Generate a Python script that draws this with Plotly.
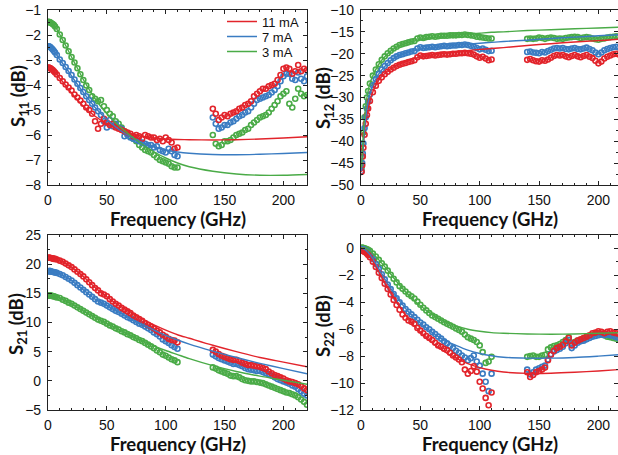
import plotly.graph_objects as go

# ---------------- data ----------------
currents = ["11 mA", "7 mA", "3 mA"]
colors = ["#e2242b", "#3a7cc2", "#4aab47"]

freq_lo = [0.5, 1, 1.5, 2, 3, 4, 5, 6, 7.5,
           10, 12.5, 15, 17.5, 20, 22.5, 25, 27.5, 30, 32.5,
           35, 37.5, 40, 42.5, 45, 47.5, 50, 52.5, 55, 57.5,
           60, 62.5, 65, 67.5, 70, 72.5, 75, 77.5, 80, 82.5,
           85, 87.5, 90, 92.5, 95, 97.5, 100, 102.5, 105, 107.5,
           110]
freq_hi = [140, 142.5, 145, 147.5, 150, 152.5, 155, 157.5, 160, 162.5,
           165, 167.5, 170, 172.5, 175, 177.5, 180, 182.5, 185, 187.5,
           190, 192.5, 195, 197.5, 200, 202.5, 205, 207.5, 210, 212.5,
           215, 217.5, 220]
freq_model = [0.5, 1, 2, 3, 5, 7.5, 10,
              15, 20, 25, 30, 40, 50,
              60, 70, 80, 90, 100, 110,
              120, 140, 160, 180, 200, 220]

# ---- S11 measured ----
s11_lo_11 = [-3.30, -3.31, -3.32, -3.33, -3.36, -3.40, -3.45, -3.50, -3.58,
             -3.72, -3.85, -3.98, -4.10, -4.22, -4.38, -4.50, -4.62, -4.75, -4.90,
             -5.00, -5.15, -5.45, -5.75, -5.55, -5.35, -5.50, -5.60, -5.55, -5.70,
             -5.75, -5.80, -5.85, -5.90, -5.95, -6.05, -6.00, -6.05, -6.15, -6.00,
             -6.05, -6.10, -6.10, -6.20, -6.15, -6.25, -6.10, -6.20, -6.30, -6.55,
             -6.50]
s11_hi_11 = [-4.95, -5.15, -5.40, -5.30, -5.20, -5.25, -5.15, -5.10, -5.05, -4.95,
             -4.90, -4.80, -4.75, -4.65, -4.45, -4.35, -4.25, -4.15, -4.15, -4.05,
             -4.00, -3.95, -3.80, -3.60, -3.35, -3.30, -3.35, -3.55, -3.45, -3.20,
             -3.45, -3.35, -3.40]
s11_lo_7 = [-2.45, -2.46, -2.47, -2.49, -2.53, -2.58, -2.64, -2.70, -2.80,
            -2.98, -3.12, -3.28, -3.44, -3.60, -3.78, -3.95, -4.12, -4.28, -4.45,
            -4.60, -4.75, -4.90, -5.05, -5.20, -5.45, -5.70, -5.40, -5.65, -5.55,
            -5.70, -5.75, -6.05, -6.00, -6.10, -6.15, -6.20, -6.25, -6.30, -6.35,
            -6.40, -6.40, -6.50, -6.45, -6.60, -6.65, -6.70, -6.55, -6.65, -6.80,
            -6.85]
s11_hi_7 = [-5.30, -5.55, -5.75, -5.70, -5.60, -5.60, -5.50, -5.45, -5.35, -5.25,
            -5.20, -5.10, -5.05, -4.90, -4.75, -4.60, -4.55, -4.50, -4.45, -4.40,
            -4.30, -4.20, -4.05, -3.85, -3.65, -3.55, -3.55, -3.75, -3.80, -3.50,
            -3.75, -3.85, -3.65]
s11_lo_3 = [-1.47, -1.48, -1.49, -1.50, -1.53, -1.56, -1.60, -1.66, -1.76,
            -1.98, -2.20, -2.42, -2.65, -2.88, -3.10, -3.33, -3.57, -3.80, -4.02,
            -4.20, -4.45, -4.55, -4.65, -4.60, -4.85, -5.00, -5.15, -5.25, -5.45,
            -5.55, -5.70, -5.85, -5.95, -6.05, -6.15, -6.25, -6.40, -6.50, -6.60,
            -6.65, -6.70, -6.80, -6.90, -7.00, -7.05, -7.10, -7.15, -7.25, -7.30,
            -7.30]
s11_hi_3 = [-6.00, -6.35, -6.45, -6.40, -6.25, -6.25, -6.20, -6.10, -6.00, -5.95,
            -5.90, -5.80, -5.75, -5.60, -5.50, -5.40, -5.30, -5.25, -5.20, -5.10,
            -4.95, -4.80, -4.65, -4.45, -4.35, -4.25, -4.75, -4.90, -4.55, -4.15,
            -4.35, -4.45, -4.40]

# ---- S12 measured ----
s12_lo_11 = [-47.0, -45.5, -43.5, -41.5, -38.5, -36.0, -34.0, -32.5, -30.8,
             -28.8, -27.3, -26.2, -25.4, -24.7, -24.1, -23.6, -23.2, -22.8, -22.5,
             -22.3, -22.1, -21.9, -21.7, -21.5, -20.8, -20.4, -20.6, -20.5, -20.4,
             -20.3, -20.4, -20.3, -20.2, -20.1, -20.2, -20.1, -20.0, -20.0, -19.9,
             -19.9, -19.8, -19.9, -20.0, -20.2, -20.6, -20.9, -20.7, -21.1, -21.5,
             -21.3]
s12_hi_11 = [-21.4, -21.2, -21.5, -21.7, -21.8, -21.5, -21.6, -21.3, -20.9, -20.5,
             -20.3, -20.4, -20.3, -20.6, -20.8, -20.5, -20.3, -20.6, -20.8, -20.5,
             -20.3, -20.7, -21.0, -21.6, -22.2, -21.8, -21.1, -20.7, -20.4, -20.1,
             -20.0, -20.2, -20.1]
s12_lo_7 = [-46.8, -45.0, -42.8, -40.5, -37.0, -34.5, -32.5, -31.0, -29.3,
            -27.2, -25.8, -24.6, -23.6, -22.8, -22.1, -21.5, -21.0, -20.6, -20.3,
            -20.1, -19.9, -19.7, -19.5, -19.4, -18.8, -18.5, -18.7, -18.6, -18.5,
            -18.4, -18.5, -18.4, -18.3, -18.2, -18.3, -18.2, -18.1, -18.1, -18.0,
            -18.0, -17.9, -18.0, -18.2, -18.4, -18.7, -19.0, -18.8, -19.1, -19.4,
            -19.3]
s12_hi_7 = [-19.6, -19.5, -19.7, -19.8, -19.9, -19.6, -19.7, -19.4, -19.1, -18.8,
            -18.7, -18.8, -18.7, -18.9, -19.0, -18.8, -18.7, -18.9, -19.0, -18.8,
            -18.6, -18.9, -19.2, -19.7, -20.1, -19.7, -19.2, -18.9, -18.7, -18.5,
            -18.4, -18.6, -18.5]
s12_lo_3 = [-46.0, -43.5, -40.5, -38.0, -34.5, -32.0, -30.0, -28.5, -26.8,
            -25.0, -23.6, -22.4, -21.4, -20.6, -19.9, -19.3, -18.8, -18.4, -18.0,
            -17.8, -17.6, -17.4, -17.2, -17.1, -16.5, -16.3, -16.4, -16.2, -16.1,
            -16.0, -16.1, -16.0, -15.9, -15.9, -15.9, -15.8, -15.8, -15.8, -15.7,
            -15.7, -15.6, -15.7, -15.8, -15.9, -16.1, -16.2, -16.3, -16.4, -16.5,
            -16.5]
s12_hi_3 = [-16.6, -16.5, -16.6, -16.5, -16.3, -16.4, -16.6, -16.4, -16.3, -16.4,
            -16.6, -16.5, -16.6, -16.4, -16.3, -16.2, -16.1, -16.2, -16.4, -16.3,
            -16.2, -16.3, -16.5, -16.7, -16.8, -16.6, -16.5, -16.3, -16.2, -16.1,
            -16.0, -16.1, -16.0]

# ---- S21 measured ----
s21_lo_11 = [21.1, 21.1, 21.1, 21.1, 21.0, 21.0, 20.9, 20.9, 20.8,
             20.6, 20.4, 20.1, 19.8, 19.5, 19.1, 18.7, 18.3, 17.9, 17.4,
             16.9, 16.4, 15.9, 15.5, 15.0, 14.8, 14.5, 14.0, 13.6, 13.2,
             12.9, 12.5, 12.2, 11.9, 11.6, 11.2, 10.9, 10.6, 10.3, 9.9,
             9.6, 9.3, 9.0, 8.6, 8.3, 7.9, 7.6, 7.2, 7.0, 6.9,
             6.6]
s21_hi_11 = [5.3, 5.0, 4.6, 4.3, 4.1, 3.9, 3.7, 3.6, 3.6, 3.4,
             3.1, 2.9, 2.7, 2.7, 2.6, 2.5, 2.4, 2.2, 2.0, 1.6,
             1.3, 1.0, 0.8, 0.6, 0.4, 0.1, -0.1, -0.2, -0.4, -0.6,
             -0.9, -1.3, -1.6]
s21_lo_7 = [18.8, 18.8, 18.8, 18.8, 18.7, 18.7, 18.6, 18.6, 18.5,
            18.3, 18.1, 17.8, 17.5, 17.2, 16.8, 16.4, 16.0, 15.6, 15.2,
            14.8, 14.4, 14.0, 13.6, 13.4, 13.2, 12.9, 12.6, 12.3, 12.0,
            11.8, 11.5, 11.2, 10.9, 10.7, 10.4, 10.1, 9.8, 9.6, 9.3,
            9.0, 8.7, 8.3, 8.0, 7.6, 7.1, 6.8, 6.5, 6.1, 5.8,
            5.5]
s21_hi_7 = [4.5, 4.2, 3.9, 3.7, 3.5, 3.3, 3.1, 2.9, 2.9, 2.7,
            2.5, 2.2, 2.0, 1.9, 1.8, 1.7, 1.7, 1.5, 1.3, 1.1,
            0.9, 0.6, 0.3, 0.1, -0.1, -0.3, -0.5, -0.8, -1.0, -1.4,
            -1.8, -2.2, -2.5]
s21_lo_3 = [14.6, 14.6, 14.6, 14.6, 14.6, 14.5, 14.5, 14.4, 14.3,
            14.2, 13.9, 13.7, 13.4, 13.2, 12.9, 12.6, 12.3, 12.0, 11.7,
            11.4, 11.1, 10.8, 10.5, 10.3, 10.1, 9.8, 9.5, 9.3, 9.0,
            8.8, 8.5, 8.3, 8.0, 7.8, 7.5, 7.3, 7.0, 6.8, 6.5,
            6.2, 5.9, 5.6, 5.2, 4.9, 4.5, 4.3, 4.0, 3.7, 3.5,
            3.2]
s21_hi_3 = [2.3, 2.1, 1.8, 1.6, 1.4, 1.2, 0.9, 0.8, 0.8, 0.6,
            0.3, 0.1, 0.0, -0.1, -0.1, -0.2, -0.3, -0.4, -0.6, -0.8,
            -1.0, -1.2, -1.4, -1.6, -1.8, -2.0, -2.1, -2.3, -2.5, -2.8,
            -3.2, -3.6, -4.1]

# ---- S22 measured ----
s22_lo_11 = [-0.15, -0.16, -0.18, -0.20, -0.25, -0.30, -0.38, -0.48, -0.65,
             -0.98, -1.38, -1.80, -2.20, -2.62, -3.02, -3.42, -3.82, -4.20, -4.55,
             -4.90, -5.15, -5.35, -5.45, -5.60, -5.90, -6.10, -6.30, -6.50, -6.65,
             -6.80, -7.00, -7.20, -7.30, -7.45, -7.55, -7.75, -7.95, -8.10, -8.25,
             -8.45, -9.00, -9.30, -9.10, -8.75, -9.15, -9.90, -10.40, -11.10, -11.65,
             -10.70]
s22_hi_11 = [-9.20, -9.55, -9.40, -9.20, -9.10, -9.00, -8.85, -8.30, -7.90, -7.60,
             -7.40, -7.30, -7.15, -6.90, -6.65, -7.20, -7.00, -6.85, -6.75, -6.65,
             -6.55, -6.45, -6.30, -6.25, -6.15, -6.20, -6.30, -6.20, -6.15, -6.25,
             -6.30, -6.35, -6.45]
s22_lo_7 = [-0.05, -0.06, -0.07, -0.09, -0.13, -0.18, -0.25, -0.33, -0.48,
            -0.78, -1.15, -1.52, -1.92, -2.30, -2.68, -3.02, -3.38, -3.70, -4.00,
            -4.25, -4.50, -4.70, -4.90, -5.10, -5.30, -5.50, -5.65, -5.85, -6.00,
            -6.20, -6.35, -6.55, -6.70, -6.90, -7.05, -7.25, -7.40, -7.60, -7.75,
            -7.95, -8.10, -8.30, -8.15, -7.95, -8.40, -8.70, -9.30, -9.90, -10.60,
            -9.30]
s22_hi_7 = [-9.00, -9.35, -9.20, -9.00, -8.90, -8.80, -8.70, -8.25, -7.85, -7.65,
            -7.55, -7.45, -7.30, -7.05, -6.80, -7.40, -7.20, -7.00, -6.90, -6.85,
            -6.75, -6.65, -6.55, -6.50, -6.45, -6.40, -6.45, -6.40, -6.45, -6.50,
            -6.60, -6.65, -6.70]
s22_lo_3 = [0.05, 0.05, 0.04, 0.03, 0.01, -0.02, -0.06, -0.10, -0.18,
            -0.38, -0.60, -0.85, -1.10, -1.35, -1.65, -1.95, -2.25, -2.52, -2.80,
            -3.00, -3.20, -3.40, -3.55, -3.72, -3.95, -4.18, -4.40, -4.60, -4.80,
            -4.98, -5.10, -5.22, -5.35, -5.48, -5.60, -5.70, -5.82, -5.95, -6.05,
            -6.18, -6.40, -6.60, -6.70, -6.80, -6.95, -7.20, -7.70, -8.50, -8.40,
            -8.05]
s22_hi_3 = [-8.05, -8.00, -7.95, -8.05, -8.05, -7.95, -7.90, -7.50, -7.35, -7.25,
            -7.20, -7.10, -6.95, -6.80, -6.60, -7.05, -6.95, -6.85, -6.80, -6.70,
            -6.60, -6.50, -6.45, -6.35, -6.30, -6.35, -6.45, -6.55, -6.60, -6.65,
            -6.70, -6.75, -6.80]

# ---- model (solid lines) ----
s11_model_11 = [-3.30, -3.31, -3.33, -3.36, -3.45, -3.58, -3.73,
                -4.02, -4.32, -4.60, -4.85, -5.25, -5.55,
                -5.78, -5.95, -6.05, -6.12, -6.16, -6.18,
                -6.19, -6.20, -6.19, -6.16, -6.12, -6.07]
s11_model_7 = [-2.45, -2.46, -2.48, -2.52, -2.63, -2.80, -2.98,
               -3.30, -3.64, -3.98, -4.30, -4.90, -5.38,
               -5.77, -6.07, -6.30, -6.47, -6.60, -6.68,
               -6.73, -6.78, -6.79, -6.77, -6.74, -6.70]
s11_model_3 = [-1.47, -1.48, -1.50, -1.53, -1.60, -1.76, -1.98,
               -2.42, -2.88, -3.33, -3.78, -4.55, -5.15,
               -5.62, -6.02, -6.37, -6.67, -6.92, -7.12,
               -7.27, -7.45, -7.56, -7.61, -7.61, -7.58]
s12_model_11 = [-47.0, -45.0, -41.0, -38.0, -34.0, -30.8, -28.7,
                -26.0, -24.5, -23.4, -22.6, -21.5, -20.8,
                -20.3, -19.9, -19.6, -19.3, -19.0, -18.8,
                -18.6, -18.1, -17.7, -17.3, -17.0, -16.6]
s12_model_7 = [-46.8, -44.8, -40.5, -37.0, -32.5, -29.3, -27.2,
               -24.6, -22.9, -21.6, -20.7, -19.6, -19.0,
               -18.6, -18.3, -18.0, -17.8, -17.6, -17.4,
               -17.2, -16.9, -16.5, -16.2, -15.9, -15.6]
s12_model_3 = [-46.0, -43.5, -38.0, -34.5, -30.0, -26.8, -25.0,
               -22.4, -20.7, -19.4, -18.5, -17.4, -16.8,
               -16.3, -16.0, -15.7, -15.5, -15.3, -15.1,
               -15.0, -14.7, -14.5, -14.3, -14.1, -13.9]
s21_model_11 = [21.1, 21.1, 21.1, 21.05, 20.95, 20.8, 20.6,
                20.1, 19.5, 18.7, 17.9, 16.0, 14.4,
                13.0, 11.8, 10.6, 9.6, 8.7, 7.9,
                7.3, 6.1, 5.0, 4.0, 3.2, 2.4]
s21_model_7 = [18.8, 18.8, 18.8, 18.75, 18.65, 18.5, 18.3,
               17.8, 17.2, 16.4, 15.6, 14.0, 12.9,
               11.8, 10.7, 9.7, 8.7, 7.8, 7.0,
               6.3, 5.1, 4.0, 3.0, 2.1, 1.2]
s21_model_3 = [14.6, 14.6, 14.6, 14.6, 14.5, 14.35, 14.2,
               13.7, 13.2, 12.6, 12.0, 10.9, 9.8,
               8.8, 7.8, 6.9, 6.0, 5.2, 4.5,
               3.8, 2.6, 1.6, 0.8, 0.1, -0.6]
s22_model_11 = [-0.10, -0.11, -0.14, -0.20, -0.35, -0.60, -0.95,
                -1.75, -2.55, -3.30, -4.00, -5.25, -6.20,
                -7.00, -7.65, -8.15, -8.55, -8.85, -9.05,
                -9.18, -9.28, -9.27, -9.20, -9.10, -8.98]
s22_model_7 = [0.00, -0.01, -0.03, -0.07, -0.20, -0.45, -0.75,
               -1.50, -2.25, -2.95, -3.60, -4.70, -5.55,
               -6.25, -6.80, -7.20, -7.55, -7.80, -7.97,
               -8.08, -8.15, -8.15, -8.10, -8.00, -7.88]
s22_model_3 = [0.05, 0.05, 0.04, 0.02, -0.05, -0.20, -0.38,
               -0.85, -1.35, -1.90, -2.45, -3.45, -4.25,
               -4.90, -5.40, -5.75, -6.00, -6.15, -6.25,
               -6.30, -6.35, -6.37, -6.35, -6.30, -6.25]

# y-axis titles and tick settings per panel
y_titles = ["S<sub>11</sub> (dB)", "S<sub>12</sub> (dB)", "S<sub>21</sub> (dB)", "S<sub>22</sub> (dB)"]
y_ranges = [[-8, -1], [-50, -10], [-5, 25], [-12, 1]]
y_dticks = [1, 5, 5, 2]
x_title = "Frequency (GHz)"

panels = [
    ([s11_lo_11, s11_lo_7, s11_lo_3], [s11_hi_11, s11_hi_7, s11_hi_3], [s11_model_11, s11_model_7, s11_model_3]),
    ([s12_lo_11, s12_lo_7, s12_lo_3], [s12_hi_11, s12_hi_7, s12_hi_3], [s12_model_11, s12_model_7, s12_model_3]),
    ([s21_lo_11, s21_lo_7, s21_lo_3], [s21_hi_11, s21_hi_7, s21_hi_3], [s21_model_11, s21_model_7, s21_model_3]),
    ([s22_lo_11, s22_lo_7, s22_lo_3], [s22_hi_11, s22_hi_7, s22_hi_3], [s22_model_11, s22_model_7, s22_model_3]),
]
for lo, hi, mo in panels:
    for a in lo:
        assert len(a) == len(freq_lo)
    for a in hi:
        assert len(a) == len(freq_hi)
    for a in mo:
        assert len(a) == len(freq_model)

# ---------------- figure ----------------
W, H = 618, 455
fig = go.Figure()

# pixel geometry of the plot frames
x_doms = [[48 / W, 307 / W], [361 / W, 1.0], [48 / W, 307 / W], [361 / W, 1.0]]
y_doms = [[1 - 185 / H, 1 - 10 / H], [1 - 185 / H, 1 - 10 / H],
          [1 - 410 / H, 1 - 235 / H], [1 - 410 / H, 1 - 235 / H]]
x_ranges = [[0, 220], [0, 216.5], [0, 220], [0, 216.5]]

legend_names = ["legend", "legend2", "legend3"]
legend_centers_y = [21.5, 36.5, 51.5]

draw_order = [2, 1, 0]  # green, blue, red (red on top)
for p, (lo, hi, mo) in enumerate(panels):
    xa = "x" if p == 0 else f"x{p + 1}"
    ya = "y" if p == 0 else f"y{p + 1}"
    for i in draw_order:
        for fx, fy in ((freq_lo, lo[i]), (freq_hi, hi[i])):
            fig.add_trace(go.Scatter(
                x=fx, y=fy, xaxis=xa, yaxis=ya, mode="markers",
                marker=dict(symbol="circle-open", size=5, color=colors[i],
                            line=dict(width=1.6, color=colors[i])),
                showlegend=False, hoverinfo="skip"))
    for i in [0, 1, 2]:
        fig.add_trace(go.Scatter(
            x=freq_model, y=mo[i], xaxis=xa, yaxis=ya, mode="lines",
            line=dict(color=colors[i], width=1.4, shape="spline", smoothing=0.8),
            name=currents[i], showlegend=(p == 0), legend=legend_names[i]))

tick_font = dict(family="Liberation Sans, Arial, sans-serif", size=14, color="#111")
leg_font = dict(family="Liberation Sans, Arial, sans-serif", size=13, color="#111")
layout = dict(
    template="none",
    width=W, height=H, margin=dict(l=0, r=0, t=0, b=0, pad=0, autoexpand=False),
    paper_bgcolor="white", plot_bgcolor="white",
    showlegend=True,
)
for i, ln in enumerate(legend_names):
    layout[ln] = dict(x=222 / W, y=1 - legend_centers_y[i] / H, xanchor="left", yanchor="middle",
                      bgcolor="rgba(0,0,0,0)", borderwidth=0, font=leg_font, itemwidth=30)
for p in range(4):
    xk = "xaxis" if p == 0 else f"xaxis{p + 1}"
    yk = "yaxis" if p == 0 else f"yaxis{p + 1}"
    ya = "y" if p == 0 else f"y{p + 1}"
    xa = "x" if p == 0 else f"x{p + 1}"
    layout[xk] = dict(
        domain=x_doms[p], range=x_ranges[p], anchor=ya, automargin=False,
        tick0=0, dtick=50, ticks="inside", ticklen=4, tickwidth=1, tickcolor="#222",
        minor=dict(dtick=10, ticks="inside", ticklen=2, tickwidth=1, tickcolor="#222"),
        showline=True, linecolor="#222", linewidth=1.2, mirror="ticks",
        showgrid=False, zeroline=False, tickfont=tick_font, ticklabelstandoff=2)
    layout[yk] = dict(
        domain=y_doms[p], range=y_ranges[p], anchor=xa, automargin=False,
        tick0=0, dtick=y_dticks[p], ticks="inside", ticklen=4, tickwidth=1, tickcolor="#222",
        minor=dict(dtick=y_dticks[p] / 2, ticks="inside", ticklen=2, tickwidth=1, tickcolor="#222"),
        showline=True, linecolor="#222", linewidth=1.2, mirror="ticks",
        showgrid=False, zeroline=False, tickfont=tick_font, ticklabelstandoff=3)
fig.update_layout(**layout)

title_font = dict(family="Lato, Open Sans, sans-serif", size=18.5, color="#111")
x_title_pos = [(177.5, 218.5), (490, 218.5), (177.5, 443.5), (490, 443.5)]
y_title_pos = [(19, 96), (324, 98), (17, 324), (324, 326)]
for p in range(4):
    cx, cy = x_title_pos[p]
    fig.add_annotation(x=cx / W, y=1 - cy / H, xref="paper", yref="paper",
                       text=f"<b>{x_title}</b>", showarrow=False, font=title_font,
                       xanchor="center", yanchor="middle")
    cx, cy = y_title_pos[p]
    fig.add_annotation(x=cx / W, y=1 - cy / H, xref="paper", yref="paper",
                       text=f"<b>{y_titles[p]}</b>", showarrow=False, font=title_font,
                       textangle=-90, xanchor="center", yanchor="middle")

fig.write_html("out.html", config={"displayModeBar": False},
               post_script="document.body.style.margin='0';document.body.style.overflow='hidden';")
